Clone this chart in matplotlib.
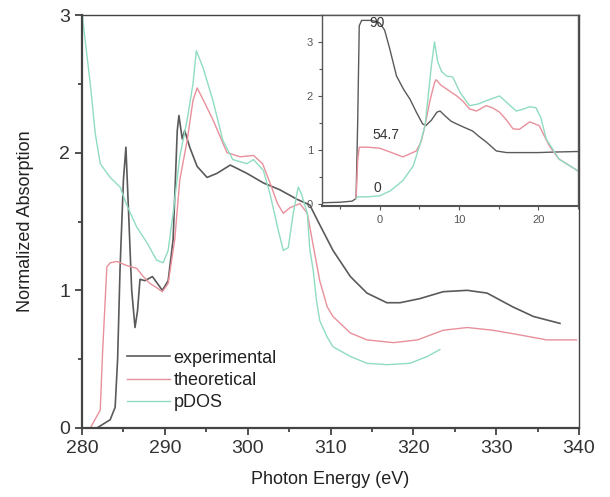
import matplotlib
matplotlib.use("Agg")
import matplotlib.pyplot as plt
from matplotlib.ticker import MultipleLocator

plt.rcParams['font.family'] = ['Liberation Sans', 'DejaVu Sans']

# Main panel: experimental
exp_x = [281.8, 283.4, 284.0, 284.3, 284.6, 285.0, 285.3, 285.6, 286.0, 286.4, 286.7, 287.0,
         287.6, 288.5, 289.7, 290.4, 291.0, 291.5, 291.7, 292.1, 292.4, 293.0, 293.9, 295.1,
         296.3, 297.9, 299.9, 301.9, 303.9, 306.0, 307.5, 308.5, 310.3, 312.4, 314.4, 316.8,
         318.4, 320.8, 323.6, 326.5, 328.9, 332.0, 334.5, 337.7]
exp_y = [0.0, 0.06, 0.15, 0.5, 1.17, 1.8, 2.04, 1.6, 1.0, 0.73, 0.85, 1.08,
         1.07, 1.1, 1.0, 1.07, 1.37, 2.16, 2.27, 2.1, 2.16, 2.04, 1.9, 1.82,
         1.85, 1.91, 1.85, 1.78, 1.73, 1.66, 1.62, 1.5, 1.29, 1.1, 0.98, 0.91,
         0.91, 0.94, 0.99, 1.0, 0.98, 0.88, 0.81, 0.76]

# Main panel: theoretical
th_x = [281.0, 282.2, 282.5, 283.0, 283.4, 284.2, 285.4, 286.6, 287.4, 288.2, 289.0, 289.7,
        290.4, 291.2, 291.8, 292.7, 293.4, 293.9, 294.5, 295.8, 297.5, 299.1, 300.7, 301.8,
        302.7, 303.6, 304.3, 305.1, 306.3, 307.2, 307.9, 308.7, 309.6, 310.3, 312.4, 314.4,
        317.6, 320.5, 323.6, 326.5, 329.6, 332.5, 336.1, 339.7]
th_y = [0.0, 0.13, 0.57, 1.17, 1.2, 1.21, 1.18, 1.16, 1.1, 1.05, 1.02, 0.99,
        1.05, 1.37, 1.8, 2.09, 2.38, 2.47, 2.4, 2.24, 2.0, 1.97, 1.98, 1.92,
        1.78, 1.63, 1.56, 1.6, 1.63, 1.56, 1.33, 1.07, 0.88, 0.81, 0.69, 0.64,
        0.62, 0.64, 0.71, 0.73, 0.71, 0.68, 0.64, 0.64]

# Main panel: pDOS
pd_x = [280.0, 280.1, 281.0, 281.6, 282.2, 283.4, 284.6, 285.4, 286.6, 287.9, 289.0, 289.8,
        290.4, 291.0, 291.8, 292.7, 293.4, 293.8, 294.6, 295.8, 297.0, 298.2, 299.9, 300.7,
        301.9, 302.7, 303.6, 304.3, 304.9, 305.5, 306.1, 306.5, 307.2, 307.5, 307.9, 308.3,
        308.7, 309.6, 310.3, 312.4, 314.4, 316.8, 319.6, 321.7, 323.2]
pd_y = [3.1, 2.96, 2.5, 2.14, 1.92, 1.82, 1.75, 1.62, 1.46, 1.34, 1.22, 1.2,
        1.29, 1.56, 1.97, 2.24, 2.5, 2.74, 2.62, 2.38, 2.09, 1.95, 1.92, 1.95,
        1.87, 1.7, 1.46, 1.29, 1.31, 1.56, 1.75, 1.7, 1.56, 1.3, 1.15, 0.93,
        0.78, 0.66, 0.59, 0.52, 0.47, 0.46, 0.47, 0.52, 0.57]

# Inset: angle-dependent spectra
a90_x = [-7.3, -5.0, -3.5, -3.0, -2.8, -2.6, -2.3, -1.0, 0.0, 0.6, 1.2, 2.1, 3.0, 3.8, 4.6,
         5.4, 5.8, 6.5, 7.2, 7.6, 8.3, 9.0, 9.7, 10.6, 11.7, 12.5, 13.4, 14.7, 16.0, 18.0,
         20.0, 22.0, 25.0]
a90_y = [0.02, 0.03, 0.05, 0.1, 1.5, 3.3, 3.4, 3.4, 3.35, 3.22, 2.9, 2.37, 2.12, 1.94, 1.7,
         1.48, 1.45, 1.55, 1.7, 1.72, 1.62, 1.53, 1.48, 1.42, 1.35, 1.25, 1.15, 0.98, 0.95, 0.95,
         0.95, 0.96, 0.97]
a55_x = [-3.0, -2.8, -2.6, -1.5, 0.0, 1.3, 2.9, 4.6, 5.2, 5.7, 6.3, 6.9, 7.1, 7.7, 8.4, 9.7,
         10.5, 11.3, 12.2, 13.4, 14.2, 15.1, 16.0, 16.8, 17.6, 18.9, 20.1, 21.4, 22.6, 23.8, 25.0]
a55_y = [0.1, 0.8, 1.05, 1.05, 1.03, 0.96, 0.87, 0.98, 1.15, 1.45, 1.9, 2.25, 2.3, 2.2, 2.13, 2.0,
         1.9, 1.76, 1.72, 1.82, 1.78, 1.7, 1.55, 1.39, 1.38, 1.52, 1.45, 1.07, 0.83, 0.72, 0.61]
a0_x = [-3.0, -2.8, -1.5, 0.0, 1.3, 2.9, 4.2, 5.0, 5.7, 6.1, 6.5, 6.9, 7.3, 7.8, 8.4, 9.2,
        10.1, 11.3, 12.4, 13.4, 15.1, 16.0, 17.2, 18.2, 18.9, 19.7, 20.3, 21.0, 22.6, 23.8, 25.0]
a0_y = [0.1, 0.13, 0.13, 0.15, 0.24, 0.43, 0.7, 1.07, 1.45, 2.0, 2.56, 3.0, 2.63, 2.45, 2.37, 2.35,
        2.07, 1.82, 1.85, 1.91, 2.0, 1.88, 1.72, 1.76, 1.8, 1.78, 1.6, 1.2, 0.83, 0.72, 0.61]

labels = ["experimental", "theoretical", "pDOS"]
angle_labels = ["90", "54.7", "0"]

c_exp = '#5a5a5a'
c_th = '#e8909c'
c_pd = '#8fdcc0'

W, H = 610, 497
fig = plt.figure(figsize=(W / 100, H / 100), dpi=100)
ax = fig.add_axes([82 / W, 1 - 428 / H, (579 - 82) / W, (428 - 15) / H])
ax.plot(exp_x, exp_y, color=c_exp, lw=1.2, label=labels[0])
ax.plot(th_x, th_y, color=c_th, lw=1.0, label=labels[1])
ax.plot(pd_x, pd_y, color=c_pd, lw=1.0, label=labels[2])
ax.set_xlim(280, 340)
ax.set_ylim(0, 3)
ax.xaxis.set_major_locator(MultipleLocator(10))
ax.xaxis.set_minor_locator(MultipleLocator(5))
ax.yaxis.set_major_locator(MultipleLocator(1))
ax.yaxis.set_minor_locator(MultipleLocator(0.5))
ax.tick_params(which='both', direction='out', width=1.2, colors='#333333', labelsize=14)
ax.tick_params(which='major', length=5)
ax.tick_params(which='minor', length=3)
for s in ax.spines.values():
    s.set_color('#444444')
    s.set_linewidth(1.0)
ax.spines['left'].set_linewidth(1.6)
ax.spines['bottom'].set_linewidth(1.6)
ax.set_xlabel("Photon Energy (eV)", fontsize=13, color='#222222', labelpad=10)
ax.set_ylabel("Normalized Absorption", fontsize=13, color='#222222', labelpad=18)
leg = ax.legend(loc='upper left', bbox_to_anchor=(0.09, 0.19), frameon=False,
                fontsize=13, handlelength=2.4, handletextpad=0.2, labelspacing=0.3,
                borderpad=0, borderaxespad=0)
for t in leg.get_texts():
    t.set_color('#222222')

# inset
ins = fig.add_axes([322 / W, 1 - 206 / H, (578 - 322) / W, (206 - 15) / H])
ins.plot(a90_x, a90_y, color=c_exp, lw=1.0)
ins.plot(a55_x, a55_y, color=c_th, lw=1.0)
ins.plot(a0_x, a0_y, color=c_pd, lw=1.0)
ins.set_xlim(-7.3, 25)
ins.set_ylim(-0.04, 3.5)
ins.xaxis.set_major_locator(MultipleLocator(10))
ins.xaxis.set_minor_locator(MultipleLocator(5))
ins.yaxis.set_major_locator(MultipleLocator(1))
ins.yaxis.set_minor_locator(MultipleLocator(0.5))
ins.tick_params(which='both', direction='out', colors='#555555', labelsize=8, width=0.8)
ins.tick_params(which='major', length=3)
ins.tick_params(which='minor', length=2)
for s in ins.spines.values():
    s.set_color('#555555')
    s.set_linewidth(1.0)
ins.spines['bottom'].set_linewidth(1.5)
ins.text(-0.3, 3.35, angle_labels[0], fontsize=10, color='#333333', ha='center', va='center')
ins.text(0.8, 1.27, angle_labels[1], fontsize=10, color='#333333', ha='center', va='center')
ins.text(-0.3, 0.3, angle_labels[2], fontsize=10, color='#333333', ha='center', va='center')

fig.savefig("out.png", dpi=100)
